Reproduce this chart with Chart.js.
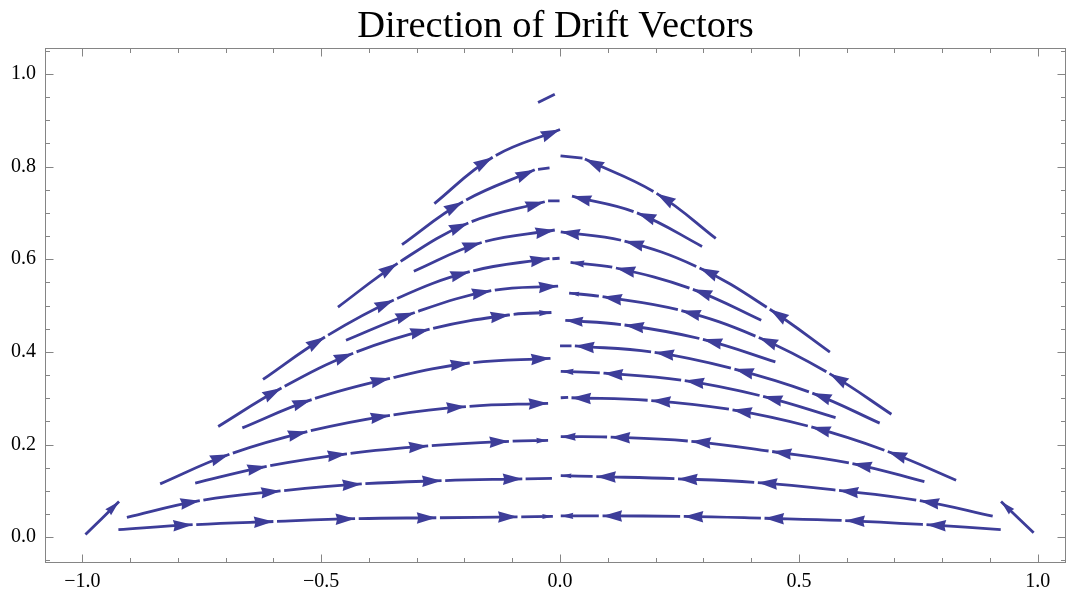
<!DOCTYPE html>
<html>
<head>
<meta charset="utf-8">
<title>Direction of Drift Vectors</title>
<script src="https://cdn.jsdelivr.net/npm/chart.js@4.4.1/dist/chart.umd.min.js"></script>
<style>
  html, body { margin: 0; padding: 0; background: #fff; }
  canvas { display: block; }
</style>
</head>
<body>
<canvas id="driftChart" width="1068" height="595"></canvas>
<script>
// streamlines: first point = tail, every later point = arrow tip
const leftShort = [[-0.999, 0.0], [-0.923, 0.077]];
const leftLine1 = [[-0.932, 0.016], [-0.769, 0.027], [-0.600, 0.034], [-0.429, 0.040], [-0.259, 0.042], [-0.089, 0.044], [-0.015, 0.045]];
const leftLine2 = [[-0.914, 0.041], [-0.754, 0.079], [-0.585, 0.100], [-0.415, 0.115], [-0.248, 0.122], [-0.079, 0.126]];
const leftLine3 = [[-0.771, 0.115], [-0.614, 0.153], [-0.446, 0.180], [-0.276, 0.197], [-0.107, 0.207], [-0.025, 0.209]];
const leftLine4 = [[-0.844, 0.112], [-0.692, 0.179], [-0.529, 0.228], [-0.356, 0.263], [-0.197, 0.282], [-0.025, 0.289]];
const leftLine5 = [[-0.672, 0.233], [-0.520, 0.297], [-0.356, 0.343], [-0.189, 0.376], [-0.020, 0.386]];
const leftLine6 = [[-0.722, 0.235], [-0.583, 0.322], [-0.433, 0.397], [-0.273, 0.449], [-0.105, 0.480], [-0.018, 0.485]];
const leftLine7 = [[-0.455, 0.422], [-0.304, 0.485], [-0.144, 0.532], [-0.004, 0.542]];
const leftLine8 = [[-0.628, 0.336], [-0.492, 0.432], [-0.348, 0.512], [-0.189, 0.573], [-0.022, 0.602]];
const leftLine9 = [[-0.313, 0.571], [-0.164, 0.636], [-0.011, 0.663]];
const leftLine10 = [[-0.471, 0.492], [-0.340, 0.591], [-0.192, 0.678], [-0.032, 0.724]];
const leftLine11 = [[-0.337, 0.627], [-0.203, 0.724], [-0.053, 0.793]];
const leftLine12 = [[-0.269, 0.715], [-0.141, 0.820], [0.0, 0.880]];

const rightShort = [[0.997, 0.004], [0.923, 0.077]];
const rightLine1 = [[0.930, 0.016], [0.767, 0.027], [0.597, 0.036], [0.428, 0.041], [0.259, 0.045], [0.089, 0.046], [0.0015, 0.046]];
const rightLine2 = [[0.913, 0.044], [0.753, 0.079], [0.584, 0.101], [0.414, 0.118], [0.247, 0.126], [0.076, 0.131], [0.0015, 0.133]];
const rightLine3 = [[0.770, 0.118], [0.612, 0.159], [0.444, 0.185], [0.275, 0.207], [0.106, 0.216], [0.0015, 0.217]];
const rightLine4 = [[0.836, 0.120], [0.686, 0.185], [0.526, 0.238], [0.361, 0.275], [0.191, 0.295], [0.024, 0.301]];
const rightLine5 = [[0.584, 0.256], [0.425, 0.304], [0.261, 0.338], [0.091, 0.354], [0.0015, 0.358]];
const rightLine6 = [[0.676, 0.243], [0.528, 0.311], [0.365, 0.363], [0.198, 0.399], [0.031, 0.413]];
const rightLine7 = [[0.458, 0.376], [0.299, 0.427], [0.135, 0.458], [0.011, 0.468]];
const rightLine8 = [[0.700, 0.261], [0.564, 0.353], [0.416, 0.431], [0.254, 0.489], [0.089, 0.519], [0.019, 0.527]];
const rightLine9 = [[0.428, 0.465], [0.278, 0.535], [0.117, 0.581], [0.022, 0.593]];
const rightLine10 = [[0.571, 0.395], [0.439, 0.492], [0.292, 0.581], [0.135, 0.639], [0.0015, 0.659]];
const rightLine11 = [[0.304, 0.624], [0.161, 0.700], [0.025, 0.736]];
const rightLine12 = [[0.332, 0.640], [0.202, 0.742], [0.052, 0.816]];

// short pieces near x = 0 that carry no arrow head
const endDashes = [
  [[-0.072, 0.126], [-0.017, 0.127]],
  [[-0.016, 0.601], [-0.001, 0.602]],
  [[-0.025, 0.726], [-0.001, 0.726]],
  [[-0.046, 0.794], [-0.022, 0.797]],
  [[-0.046, 0.938], [-0.011, 0.956]],
  [[0.017, 0.302], [0.0015, 0.301]],
  [[0.024, 0.413], [0.0, 0.413]],
  [[0.047, 0.818], [0.001, 0.823]]
];

const xTicks = [-1.0, -0.9, -0.8, -0.7, -0.6, -0.5, -0.4, -0.3, -0.2, -0.1, 0.0, 0.1, 0.2, 0.3, 0.4, 0.5, 0.6, 0.7, 0.8, 0.9, 1.0];
const xMajor = [-1.0, -0.5, 0.0, 0.5, 1.0];
const yTicks = [-0.05, 0.0, 0.05, 0.1, 0.15, 0.2, 0.25, 0.3, 0.35, 0.4, 0.45, 0.5, 0.55, 0.6, 0.65, 0.7, 0.75, 0.8, 0.85, 0.9, 0.95, 1.0, 1.05];
const yMajor = [0.0, 0.2, 0.4, 0.6, 0.8, 1.0];

const flowColor = "rgb(61,61,153)";
const frameColor = "#858585";
const serif = "'Liberation Serif', 'Times New Roman', serif";

const streamlines = [
  leftShort, leftLine1, leftLine2, leftLine3, leftLine4, leftLine5, leftLine6,
  leftLine7, leftLine8, leftLine9, leftLine10, leftLine11, leftLine12,
  rightShort, rightLine1, rightLine2, rightLine3, rightLine4, rightLine5, rightLine6,
  rightLine7, rightLine8, rightLine9, rightLine10, rightLine11, rightLine12
];

const isMajor = (v, list) => list.some(m => Math.abs(m - v) < 1e-9);
const fmt = v => (v < -1e-9 ? "\u2212" : "") + Math.abs(v).toFixed(1);
const toXY = pts => pts.map(p => ({ x: p[0], y: p[1] }));

const datasets = [];

streamlines.forEach(line => {
  datasets.push({
    data: toXY(line),
    heads: true,
    showLine: true,
    borderColor: flowColor,
    borderWidth: 2.8,
    pointRadius: 0,
    tension: 0.4,
    // small gap right after each arrow tip
    segment: {
      borderDash: () => [0, 3.5, 5000, 0],
      borderDashOffset: c => (c.p0DataIndex % 2) * 0.01
    }
  });
});

endDashes.forEach(d => {
  datasets.push({
    data: toXY(d),
    showLine: true,
    borderColor: flowColor,
    borderWidth: 2.8,
    pointRadius: 0
  });
});

const arrowHeads = {
  id: "arrowHeads",
  afterDatasetsDraw(chart) {
    const ctx = chart.ctx;
    chart.data.datasets.forEach((ds, i) => {
      if (!ds.heads) return;
      const pts = chart.getDatasetMeta(i).data;
      ctx.save();
      ctx.fillStyle = ds.borderColor;
      for (let j = 1; j < pts.length; j++) {
        const p = pts[j];
        const q = pts[j - 1];
        let dx = p.x - p.cp1x;
        let dy = p.y - p.cp1y;
        if (!isFinite(dx) || !isFinite(dy) || Math.hypot(dx, dy) < 0.5) {
          dx = p.x - q.x;
          dy = p.y - q.y;
        }
        const seg = Math.hypot(p.x - q.x, p.y - q.y);
        const len = Math.min(19.5, seg * 0.3);
        const wid = 11.5 * Math.pow(len / 19.5, 1.4);
        ctx.save();
        ctx.translate(p.x, p.y);
        ctx.rotate(Math.atan2(dy, dx));
        ctx.beginPath();
        ctx.moveTo(0, 0);
        ctx.lineTo(-len, wid / 2);
        ctx.lineTo(-len * 0.92, 0);
        ctx.lineTo(-len, -wid / 2);
        ctx.closePath();
        ctx.fill();
        ctx.restore();
      }
      ctx.restore();
    });
  }
};

// frame with inward ticks on all four sides
const frameTicks = {
  id: "frameTicks",
  afterDraw(chart) {
    const { ctx, chartArea: a, scales: { x, y } } = chart;
    const L = Math.round(a.left) + 0.5;
    const R = Math.round(a.right) - 0.5;
    const T = Math.round(a.top) + 0.5;
    const B = Math.round(a.bottom) - 0.5;
    ctx.save();
    ctx.strokeStyle = frameColor;
    ctx.lineWidth = 1;
    ctx.strokeRect(L, T, R - L, B - T);
    ctx.beginPath();
    x.ticks.forEach(t => {
      const px = Math.round(x.getPixelForValue(t.value)) + 0.5;
      const len = isMajor(t.value, xMajor) ? 8 : 4.5;
      ctx.moveTo(px, B); ctx.lineTo(px, B - len);
      ctx.moveTo(px, T); ctx.lineTo(px, T + len);
    });
    y.ticks.forEach(t => {
      const py = Math.round(y.getPixelForValue(t.value)) + 0.5;
      const len = isMajor(t.value, yMajor) ? 8 : 4.5;
      ctx.moveTo(L, py); ctx.lineTo(L + len, py);
      ctx.moveTo(R, py); ctx.lineTo(R - len, py);
    });
    ctx.stroke();
    ctx.restore();
  }
};

new Chart(document.getElementById("driftChart"), {
  type: "scatter",
  data: { datasets },
  options: {
    responsive: false,
    devicePixelRatio: 1,
    animation: false,
    events: [],
    layout: { padding: { left: 0, right: 2, top: 0, bottom: 0 } },
    plugins: {
      legend: { display: false },
      tooltip: { enabled: false },
      title: {
        display: true,
        text: "Direction of Drift Vectors",
        color: "#000",
        fullSize: false,
        font: { family: serif, size: 38.5, weight: "normal", lineHeight: 1.1 },
        padding: { top: 5.5, bottom: 0.5 }
      }
    },
    scales: {
      x: {
        type: "linear",
        min: -1.078,
        max: 1.059,
        afterBuildTicks: s => { s.ticks = xTicks.map(v => ({ value: v })); },
        afterFit: s => { s.height = 32; },
        grid: { display: false, drawTicks: false },
        border: { display: false },
        ticks: {
          autoSkip: false,
          maxRotation: 0,
          padding: 7,
          color: "#000",
          font: { family: serif, size: 20 },
          callback: v => isMajor(v, xMajor) ? fmt(v) : ""
        }
      },
      y: {
        type: "linear",
        min: -0.0556,
        max: 1.055,
        afterBuildTicks: s => { s.ticks = yTicks.map(v => ({ value: v })); },
        afterFit: s => { s.width = 45; },
        grid: { display: false, drawTicks: false },
        border: { display: false },
        ticks: {
          autoSkip: false,
          padding: 9,
          color: "#000",
          font: { family: serif, size: 20 },
          callback: v => isMajor(v, yMajor) ? fmt(v) : ""
        }
      }
    }
  },
  plugins: [arrowHeads, frameTicks]
});
</script>
</body>
</html>
